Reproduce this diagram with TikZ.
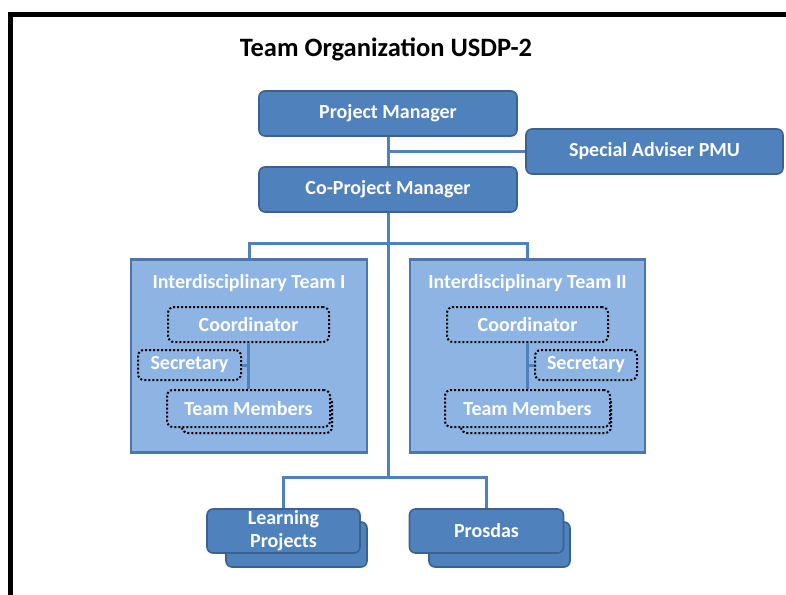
\documentclass[tikz,border=0pt]{standalone}
\usepackage{fontspec}
\setmainfont{Carlito}
\usepackage{tikz}
\usetikzlibrary{calc}
\definecolor{boxFill}{HTML}{4F81BD}
\definecolor{boxLine}{HTML}{3A6290}
\definecolor{teamFill}{HTML}{8DB4E2}
\definecolor{teamLine}{HTML}{4D76AC}

\begin{document}
\begin{tikzpicture}[x=1pt, y=-1pt,
    unit/.style={draw=boxLine, fill=boxFill, line width=1.6pt, rounded corners=6pt,
        text=white, font=\bfseries\fontsize{20}{23}\selectfont, align=center, inner sep=0pt},
    team/.style={draw=teamLine, fill=teamFill, line width=2.4pt, inner sep=0pt},
    role/.style={draw=black, dash pattern=on 2pt off 2pt, line width=2pt, rounded corners=6pt,
        text=white, font=\bfseries\fontsize{20}{22}\selectfont, inner sep=0pt},
    link/.style={draw=boxFill, line width=3pt}]
    \useasboundingbox (0,0) rectangle (786,594);

    % outer frame, cut off on the right and at the bottom
    \draw[line width=5pt] (10.5,600) -- (10.5,14.5) -- (800,14.5);

    \node[font=\bfseries\fontsize{26.5}{30}\selectfont] (title) at (386,49) {Team Organization USDP-2};

    % management
    \node[unit, minimum width=258pt, minimum height=45pt] (pm) at (388,113.5) {Project Manager};
    \node[unit, minimum width=257pt, minimum height=45pt] (sap) at (654.5,151.5) {Special Adviser PMU};
    \node[unit, minimum width=258pt, minimum height=45pt] (copm) at (388,189.5) {Co-Project Manager};

    \coordinate (busA) at (388,243);
    \coordinate (busB) at (388,477);

    % interdisciplinary teams
    \node[team, minimum width=236pt, minimum height=193pt] (teamA) at (249,356) {};
    \node[team, minimum width=235pt, minimum height=193pt] (teamB) at (527.5,356) {};
    \node[text=white, font=\bfseries\fontsize{20}{22}\selectfont] (titleA) at (249,283) {Interdisciplinary Team I};
    \node[text=white, font=\bfseries\fontsize{20}{22}\selectfont] (titleB) at (527.5,283) {Interdisciplinary Team II};

    \node[role, minimum width=161pt, minimum height=35pt] (coA) at (248.5,324.5) {Coordinator};
    \node[role, minimum width=103pt, minimum height=30pt] (secA) at (189.5,365) {Secretary};
    \node[role, minimum width=150pt, minimum height=36pt] (tmA-back) at (257,415) {};
    \node[role, fill=teamFill, minimum width=163pt, minimum height=37pt] (tmA) at (248.5,408.5) {Team Members};

    \node[role, minimum width=161pt, minimum height=35pt] (coB) at (527.5,324.5) {Coordinator};
    \node[role, minimum width=102pt, minimum height=30pt] (secB) at (586,365) {Secretary};
    \node[role, minimum width=150pt, minimum height=36pt] (tmB-back) at (536,415) {};
    \node[role, fill=teamFill, minimum width=165pt, minimum height=37pt] (tmB) at (527.5,408.5) {Team Members};

    % projects
    \node[unit, minimum width=141pt, minimum height=45pt] (lp-back) at (296.5,544.5) {};
    \node[unit, minimum width=153pt, minimum height=44pt, text width=140pt] (lp) at (283.5,531) {Learning\\Projects};
    \node[unit, minimum width=141pt, minimum height=45pt] (pr-back) at (499.5,544.5) {};
    \node[unit, minimum width=154pt, minimum height=44pt] (pr) at (486.5,531) {Prosdas};

    % connectors
    \draw[link] (pm) -- (copm);
    \draw[link] (sap.west) -- (sap.west -| pm.south);
    \draw[link] (copm.south) -- (busB);
    \draw[link] (teamA.north) |- (busA) -| (teamB.north);
    \draw[link] (lp.north) |- (busB) -| (pr.north);
    \draw[link] (coA) -- (tmA);
    \draw[link] (secA.east) -- (secA.east -| coA.south);
    \draw[link] (coB) -- (tmB);
    \draw[link] (secB.west) -- (secB.west -| coB.south);
\end{tikzpicture}
\end{document}
